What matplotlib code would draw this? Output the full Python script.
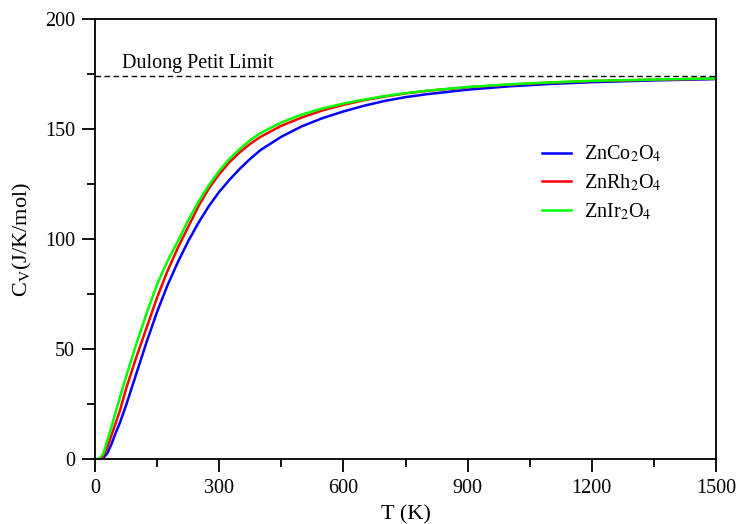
import matplotlib
matplotlib.use("Agg")
import matplotlib.pyplot as plt
from matplotlib.ticker import MultipleLocator

plt.rcParams['font.family'] = ['Liberation Serif', 'DejaVu Serif']
plt.rcParams['mathtext.fontset'] = 'stix'

# Temperature grid (K)
T = [0, 10, 20, 30, 40, 50, 60, 75, 100, 125, 150, 175, 200, 225, 250, 275,
     300, 325, 350, 375, 400, 450, 500, 550, 600, 650, 700, 750, 800, 900,
     1000, 1100, 1200, 1350, 1500]

cv_co = [0, 0.05, 0.6, 2.8, 7, 12, 16.5, 24.5, 39, 53.5, 67, 79, 89.5, 99,
         107.5, 115, 121.5, 127, 132, 136.5, 140.5, 146.5, 151.3, 155, 158,
         160.6, 162.8, 164.5, 165.8, 167.9, 169.4, 170.5, 171.3, 172.1, 172.7]
cv_rh = [0, 0.1, 1.5, 5.5, 11, 16.5, 22, 32, 46.5, 60, 73.5, 85.5, 96, 105.5,
         115, 123, 129.5, 135, 139.5, 143.3, 146.5, 151.5, 155.3, 158.5, 161,
         163.1, 164.8, 166.2, 167.3, 169, 170.2, 171.1, 171.8, 172.4, 172.9]
cv_ir = [0, 0.2, 2.5, 8.5, 15, 21.5, 28, 37.5, 52.5, 66.5, 79.5, 90, 99,
         108.5, 117, 124.5, 131, 136.5, 141, 145, 148.2, 153, 156.6, 159.4,
         161.6, 163.4, 165, 166.3, 167.4, 169.1, 170.3, 171.2, 171.9, 172.5,
         173.0]

labels = [r'ZnCo$_2$O$_4$', r'ZnRh$_2$O$_4$', r'ZnIr$_2$O$_4$']
colors = ['#0000ff', '#ff0000', '#00ff00']
dulong_petit = 174.2

fig = plt.figure(figsize=(7.38, 5.24), dpi=100)
ax = fig.add_axes([95/738, 1 - 459.3/524, (716 - 95)/738, (459.3 - 19)/524])

for y, c, lab in zip([cv_co, cv_rh, cv_ir], colors, labels):
    ax.plot(T, y, color=c, lw=1.8, label=lab)

ax.axhline(dulong_petit, color='black', lw=1.0, ls=(0, (4, 2.5)))
ax.text(65, 177.8, 'Dulong Petit Limit', fontsize=14.5, ha='left', va='baseline')

ax.set_xlim(0, 1500)
ax.set_ylim(0, 200)
ax.xaxis.set_major_locator(MultipleLocator(300))
ax.xaxis.set_minor_locator(MultipleLocator(150))
ax.yaxis.set_major_locator(MultipleLocator(50))
ax.yaxis.set_minor_locator(MultipleLocator(25))
ax.tick_params(which='both', direction='out', width=1.3, labelsize=14.5,
               top=False, right=False)
ax.tick_params(which='major', length=9.5, pad=5)
ax.tick_params(which='minor', length=5.5)
for s in ax.spines.values():
    s.set_linewidth(1.3)

ax.set_xlabel('T (K)', fontsize=16, labelpad=5)
ax.set_ylabel(r'C$_\mathrm{V}$(J/K/mol)', fontsize=16, labelpad=8)

leg = ax.legend(loc='upper left', bbox_to_anchor=((542 - 95)/621, (459.3 - 144)/440.3),
                frameon=False, fontsize=14.5, handlelength=1.45, handletextpad=0.65,
                labelspacing=0.4, borderpad=0, borderaxespad=0)

fig.savefig('out.png', dpi=100)
